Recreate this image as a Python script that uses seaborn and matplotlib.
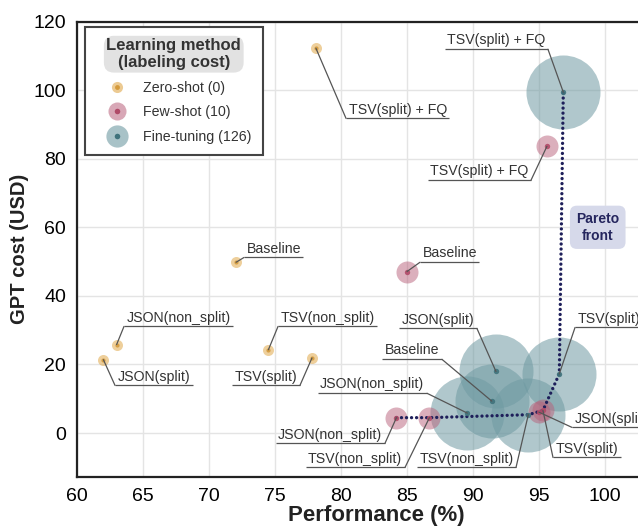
import numpy as np
import pandas as pd
import matplotlib
matplotlib.use("Agg")
import matplotlib.pyplot as plt
import matplotlib.transforms as mtransforms
from matplotlib.lines import Line2D
import seaborn as sns

# ---------------- data ----------------
methods = ["Zero-shot (0)", "Few-shot (10)", "Fine-tuning (126)"]

zero_labels = ["TSV(split) + FQ", "Baseline", "JSON(non_split)", "JSON(split)", "TSV(non_split)", "TSV(split)"]
zero_perf = [78.1, 72.05, 63.0, 62.0, 74.5, 77.8]
zero_cost = [112.2, 49.8, 25.8, 21.4, 24.3, 21.9]

few_labels = ["TSV(split) + FQ", "Baseline", "JSON(non_split)", "TSV(non_split)", "JSON(split)", "TSV(split)"]
few_perf = [95.6, 85.0, 84.2, 86.7, 95.0, 95.3]
few_cost = [83.6, 47.1, 4.5, 4.5, 6.1, 6.6]

ft_labels = ["TSV(split) + FQ", "JSON(split)", "TSV(split)", "Baseline", "JSON(non_split)", "TSV(non_split)"]
ft_perf = [96.84, 91.74, 96.54, 91.42, 89.57, 94.19]
ft_cost = [99.4, 17.96, 17.3, 9.33, 5.83, 5.36]

# pareto front: (method index, label)
pareto = [(1, "JSON(non_split)"), (1, "TSV(non_split)"), (2, "TSV(non_split)"),
          (1, "TSV(split)"), (2, "TSV(split)"), (2, "TSV(split) + FQ")]

frames = []
for m, labs, p, c in zip(methods, [zero_labels, few_labels, ft_labels],
                         [zero_perf, few_perf, ft_perf], [zero_cost, few_cost, ft_cost]):
    frames.append(pd.DataFrame({"method": m, "label": labs, "perf": p, "cost": c}))
df = pd.concat(frames, ignore_index=True)

# ---------------- style ----------------
sns.set_theme(style="whitegrid")
plt.rcParams["font.family"] = ["Liberation Sans", "DejaVu Sans"]

outer_pal = {methods[0]: "#e0a84a", methods[1]: "#b8607a", methods[2]: "#6f9aa2"}
inner_pal = {methods[0]: "#d49a3c", methods[1]: "#b04a68", methods[2]: "#3f727b"}
outer_sizes = {methods[0]: 63, methods[1]: 251, methods[2]: 2840}
inner_sizes = {methods[0]: 9, methods[1]: 15, methods[2]: 15}
alphas = {methods[0]: 0.55, methods[1]: 0.5, methods[2]: 0.55}

fig = plt.figure(figsize=(6.38, 5.27), dpi=100)
ax = fig.add_axes([77 / 638, 1 - 477 / 527, 1 - 77 / 638, (477 - 21.5) / 527])

# bubbles (fine-tuning first so smaller ones sit on top)
for z, m in zip([2, 3, 4], methods[::-1]):
    sub = df[df.method == m]
    sns.scatterplot(data=sub, x="perf", y="cost", color=outer_pal[m], s=outer_sizes[m],
                    alpha=alphas[m], linewidth=0, ax=ax, legend=False, zorder=z)

# pareto front
pts = []
for mi, lab in pareto:
    row = df[(df.method == methods[mi]) & (df.label == lab)].iloc[0]
    pts.append((row.perf, row.cost))
pts = np.array(pts)
ax.plot(pts[:, 0], pts[:, 1], color="#1e1f5a", lw=2.4, linestyle=(0, (0.01, 1.5)),
        dash_capstyle="round", zorder=6)

# inner dots
for m in methods:
    sub = df[df.method == m]
    sns.scatterplot(data=sub, x="perf", y="cost", color=inner_pal[m], s=inner_sizes[m],
                    alpha=0.9, linewidth=0, ax=ax, legend=False, zorder=7)

ax.set_xlim(60, 102.5)
ax.set_ylim(-12.8, 120)
ax.set_xticks(np.arange(60, 101, 5))
ax.set_yticks(np.arange(0, 121, 20))
ax.grid(True, color="#e4e4e4", lw=1.0)
ax.set_axisbelow(True)
for s in ["left", "bottom", "top"]:
    ax.spines[s].set_visible(True)
    ax.spines[s].set_color("#222222")
    ax.spines[s].set_linewidth(1.6)
ax.spines["right"].set_visible(False)
ax.tick_params(axis="both", length=0, labelsize=14, labelcolor="black")
ax.tick_params(axis="x", pad=8)
ax.tick_params(axis="y", pad=8)
ax.set_xlabel("Performance (%)", fontsize=16, fontweight="bold", color="#222222")
ax.xaxis.set_label_coords(0.533, -0.062)
ax.set_ylabel("GPT cost (USD)", fontsize=14.5, fontweight="bold", color="#222222", labelpad=3)

# ---------------- labels with underline + leader ----------------
# (method index, label, anchor x, anchor y, side where leader attaches)
label_specs = [
    (0, "TSV(split) + FQ", 80.38, 91.75, "left"),
    (0, "Baseline", 72.65, 51.2, "left"),
    (0, "JSON(non_split)", 63.56, 31.1, "left"),
    (0, "JSON(split)", 62.88, 13.9, "left"),
    (0, "TSV(non_split)", 75.23, 31.1, "left"),
    (0, "TSV(split)", 76.89, 13.9, "right"),
    (1, "TSV(split) + FQ", 94.39, 73.7, "right"),
    (1, "Baseline", 85.98, 49.8, "left"),
    (1, "JSON(non_split)", 83.33, -3.0, "right"),
    (1, "TSV(non_split)", 84.85, -10.0, "right"),
    (1, "JSON(split)", 97.5, 1.66, "left"),
    (1, "TSV(split)", 96.06, -7.1, "left"),
    (2, "TSV(split) + FQ", 95.68, 111.9, "right"),
    (2, "JSON(split)", 90.3, 30.5, "right"),
    (2, "TSV(split)", 97.73, 30.8, "left"),
    (2, "Baseline", 87.65, 21.5, "right"),
    (2, "JSON(non_split)", 86.52, 11.6, "right"),
    (2, "TSV(non_split)", 93.26, -10.0, "right"),
]

texts = []
for mi, lab, axx, axy, side in label_specs:
    dx = 2 if side == "left" else -2
    tr = mtransforms.offset_copy(ax.transData, fig=fig, x=dx, y=3.5, units="points")
    t = ax.text(axx, axy, lab, transform=tr, ha=side, va="baseline", fontsize=10.2,
                color="#333333", zorder=9)
    texts.append(t)

fig.canvas.draw()
inv = ax.transData.inverted()
for (mi, lab, axx, axy, side), t in zip(label_specs, texts):
    bb = t.get_window_extent()
    x0_disp, y0_disp = ax.transData.transform((axx, axy))
    w = bb.width + 5
    x1_disp = x0_disp + w if side == "left" else x0_disp - w
    x1, _ = inv.transform((x1_disp, y0_disp))
    ax.plot([axx, x1], [axy, axy], color="#555555", lw=0.9, zorder=8, clip_on=False,
            solid_capstyle="butt")
    row = df[(df.method == methods[mi]) & (df.label == lab)].iloc[0]
    ax.plot([axx, row.perf], [axy, row.cost], color="#555555", lw=0.9, zorder=8)

# pareto label
ax.text(99.45, 60.0, "Pareto\nfront", ha="center", va="center", fontsize=10, fontweight="bold",
        color="#25265e", linespacing=1.25, zorder=9,
        bbox=dict(boxstyle="round,pad=0.45,rounding_size=0.5", facecolor="#d6d9ea", edgecolor="none"))

# ---------------- legend ----------------
handles = []
leg_outer_ms = [8, 13, 16]
leg_inner_ms = [3.5, 4, 4]
for m, mo, mi_ in zip(methods, leg_outer_ms, leg_inner_ms):
    h1 = Line2D([], [], marker="o", linestyle="none", markersize=mo, markerfacecolor=outer_pal[m],
                markeredgewidth=0, alpha=alphas[m] + 0.05)
    h2 = Line2D([], [], marker="o", linestyle="none", markersize=mi_, markerfacecolor=inner_pal[m],
                markeredgewidth=0)
    handles.append((h1, h2))

leg = ax.legend(handles, methods, title="Learning method\n(labeling cost)", loc="upper left",
                bbox_to_anchor=(0.014, 0.988), borderaxespad=0, frameon=True, fancybox=False,
                fontsize=10.2, title_fontproperties={"weight": "bold", "size": 12},
                labelspacing=0.75, handletextpad=0.4, borderpad=0.8, handlelength=2.9)
leg.get_frame().set_edgecolor("#444444")
leg.get_frame().set_linewidth(1.5)
leg.get_frame().set_facecolor("white")
leg.get_frame().set_alpha(1)
leg.set_zorder(20)
tt = leg.get_title()
tt.set_color("#333333")
tt.set_linespacing(1.15)
tt.set_multialignment("center")
tt.set_bbox(dict(boxstyle="round,pad=0.15,rounding_size=0.6", facecolor="#e2e2e2", edgecolor="none"))
for txt in leg.get_texts():
    txt.set_color("#333333")

fig.savefig("out.png", dpi=100)
